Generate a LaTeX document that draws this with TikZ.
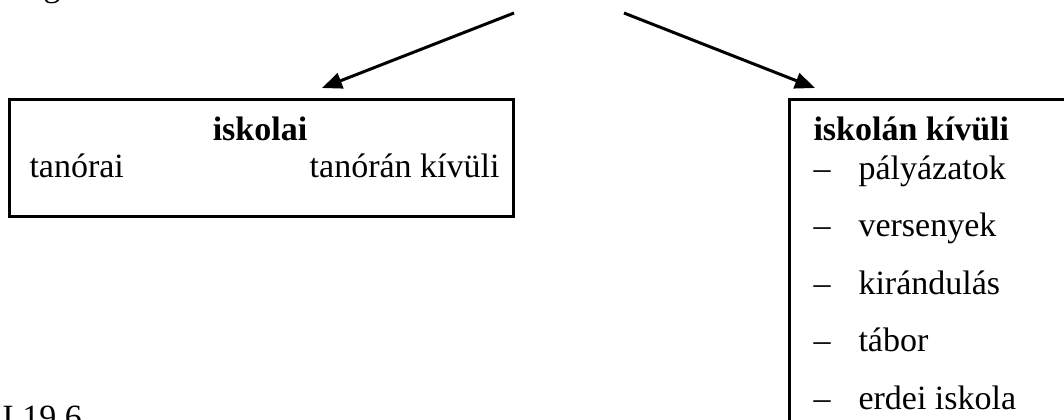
\documentclass[tikz,border=0pt]{standalone}
\usepackage{fontspec}
\setmainfont{Liberation Serif}
\usetikzlibrary{arrows.meta}

\newcommand{\drawitem}[3]{ % Parameters: name, baseline, label
  \node[txt] (#1-dash) at (812,#2) {--};
  \node[txt] (#1) at (857,#2) {#3};
}

\begin{document}
\begin{tikzpicture}[x=0.5pt,y=-0.5pt,line width=1.5pt,
    txt/.style={inner sep=0pt,anchor=base west,font=\fontsize{17}{20}\selectfont},
    arr/.style={-{Triangle[length=10pt,width=8pt]}}]
  \useasboundingbox (0,0) rectangle (1064,419);
  % cut-off text of the page
  \node[txt] (above) at (42,-4) {g};
  \node[txt] (caption) at (1,428) {I 19.6};
  % boxes
  \draw (9,99) rectangle (513,216);
  \draw (789,99) rectangle (1110,470);
  % arrows
  \coordinate (srcL) at (514,13);
  \coordinate (srcR) at (624,13);
  \coordinate (tipL) at (322,88);
  \coordinate (tipR) at (815,88);
  \draw[arr] (srcL) -- (tipL);
  \draw[arr] (srcR) -- (tipR);
  % left box
  \node[txt,anchor=base,font=\fontsize{17}{20}\selectfont\bfseries] (iskolai) at (260,140) {iskolai};
  \node[txt] (tanorai) at (28,177) {tanórai};
  \node[txt,anchor=base east] (tanoran) at (501,177) {tanórán kívüli};
  % right box
  \node[txt,font=\fontsize{17}{20}\selectfont\bfseries] (kivuli) at (812,140) {iskolán kívüli};
  \drawitem{palyazat}{179}{pályázatok}
  \drawitem{verseny}{236.5}{versenyek}
  \drawitem{kirandulas}{294}{kirándulás}
  \drawitem{tabor}{351.5}{tábor}
  \drawitem{erdei}{409}{erdei iskola}
\end{tikzpicture}
\end{document}
